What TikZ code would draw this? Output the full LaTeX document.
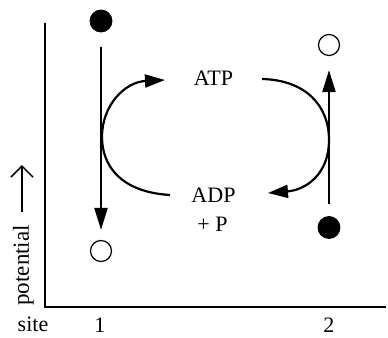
\documentclass[tikz,border=0pt]{standalone}
\usepackage{fontspec}
\setmainfont{Liberation Serif}
\usetikzlibrary{arrows.meta}
\begin{document}
\begin{tikzpicture}[x=0.5pt,y=-0.5pt,
  lbl/.style={inner sep=0pt, anchor=base, font=\fontsize{11}{13}\selectfont},
  full/.style={circle, fill=black, draw=black, minimum size=11pt, inner sep=0pt},
  empty/.style={circle, fill=white, draw=black, line width=0.6pt, minimum size=10.5pt, inner sep=0pt},
  axis/.style={line width=0.7pt},
  flow/.style={line width=1.1pt, -{Triangle[length=11pt,width=6.5pt]}},
  cyc/.style={line width=1.1pt, -{Triangle[length=10pt,width=6.5pt]}},
  potarrow/.style={line width=0.75pt, -{Straight Barb[length=5.5pt,width=11pt]}}]
\useasboundingbox (0,0) rectangle (388,338);
% axes
\coordinate (top) at (45,23);
\coordinate (origin) at (45,307);
\coordinate (right) at (386,307);
\draw[axis] (top) -- (origin) -- (right);
% labels
\node[lbl] (site) at (33,332) {site};
\node[lbl] (s1) at (100,333) {1};
\node[lbl] (s2) at (329,333) {2};
\node[lbl, rotate=90, anchor=base west, font=\fontsize{11.5}{13}\selectfont] (pot) at (29,306) {potential};
\coordinate (pa) at (22,212);
\coordinate (pb) at (22,165);
\draw[potarrow] (pa) -- (pb);
% circles
\node[full] (f1) at (101,21) {};
\node[empty] (o1) at (101,251) {};
\node[empty] (o2) at (329,45) {};
\node[full] (f2) at (329,227.5) {};
% vertical arrows
\draw[flow, shorten <=7.5pt, shorten >=5pt] (f1) -- (o1);
\draw[flow, shorten <=6pt, shorten >=7pt] (f2) -- (o2);
% texts
\node[lbl] (atp) at (213.5,85) {ATP};
\node[lbl] (adp) at (213.5,203) {ADP};
\node[lbl] (pp) at (212.5,232) {+ P};
% cycle curves
\coordinate (la) at (170,195);
\coordinate (lb) at (165,80);
\coordinate (ra) at (262,79);
\coordinate (rb) at (268,193);
\draw[cyc] (la) .. controls (120,192) and (102,165) .. (102,137)
           .. controls (102,105) and (125,82) .. (lb);
\draw[cyc] (ra) .. controls (305,80) and (329,105) .. (329,140)
           .. controls (329,175) and (305,190) .. (rb);
\end{tikzpicture}
\end{document}
